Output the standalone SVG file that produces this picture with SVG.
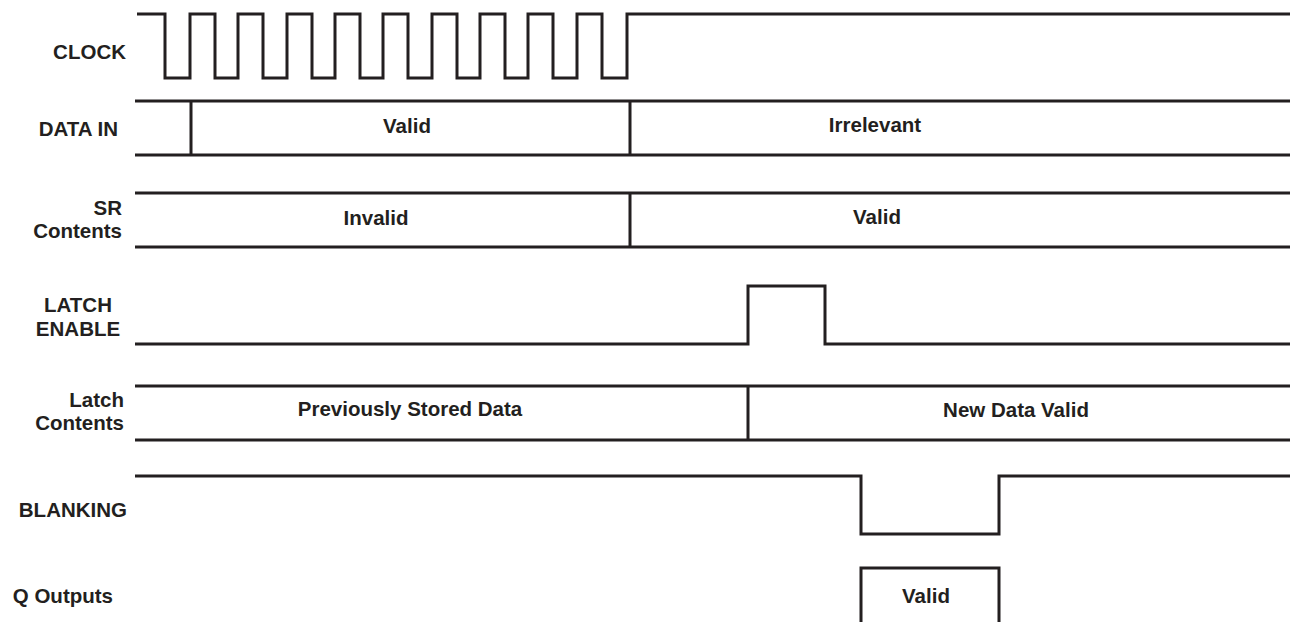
<svg xmlns="http://www.w3.org/2000/svg" width="1294" height="622" viewBox="0 0 1294 622">
<style>
.w{fill:none;stroke:#231f20;stroke-width:3;stroke-linejoin:miter;stroke-linecap:butt}
text{font-family:"Liberation Sans",Arial,sans-serif;font-weight:bold;font-size:20.5px;fill:#231f20}
.r{text-anchor:end}
.c{text-anchor:middle}
</style>
<rect width="1294" height="622" fill="#fff"/>
<g id="labels">
<text class="r" x="126" y="59">CLOCK</text>
<text class="r" x="118" y="136">DATA IN</text>
<text class="r" x="122" y="215">SR</text>
<text class="r" x="122" y="238">Contents</text>
<text class="c" x="78" y="312">LATCH</text>
<text class="c" x="78" y="336">ENABLE</text>
<text class="r" x="124" y="407">Latch</text>
<text class="r" x="124" y="430">Contents</text>
<text class="r" x="127" y="517">BLANKING</text>
<text class="r" x="113" y="603">Q Outputs</text>
</g>
<g id="clock">
<path class="w" d="M137 14H165V78H190V14H215V78H238V14H263V78H287V14H312V78H335V14H360V78H383V14H408V78H432V14H457V78H480V14H505V78H528V14H553V78H577V14H602V78H627V14H1290"/>
</g>
<g id="data-in">
<path class="w" d="M135 101H1290M135 155H1290M191 101V155M630 101V155"/>
<text class="c" x="407" y="133">Valid</text>
<text class="c" x="875" y="132">Irrelevant</text>
</g>
<g id="sr-contents">
<path class="w" d="M135 193H1290M135 247H1290M630 193V247"/>
<text class="c" x="376" y="225">Invalid</text>
<text class="c" x="877" y="224">Valid</text>
</g>
<g id="latch-enable">
<path class="w" d="M135 344H748V286H825V344H1290"/>
</g>
<g id="latch-contents">
<path class="w" d="M135 386H1290M135 440H1290M748 386V440"/>
<text class="c" x="410" y="416">Previously Stored Data</text>
<text class="c" x="1016" y="417">New Data Valid</text>
</g>
<g id="blanking">
<path class="w" d="M135 476H861V534H999V476H1290"/>
</g>
<g id="q-outputs">
<path class="w" d="M861 623V568H999V623"/>
<text class="c" x="926" y="603">Valid</text>
</g>
</svg>
